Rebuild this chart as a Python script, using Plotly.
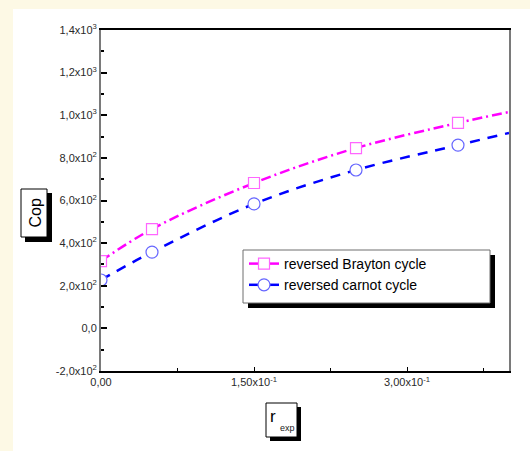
import plotly.graph_objects as go

# ---- data ----
r_exp = [0.0, 0.05, 0.15, 0.25, 0.35, 0.40]
cop_brayton = [316, 466, 682, 846, 964, 1015]
cop_carnot = [227, 358, 584, 743, 860, 917]
n_marked = 5  # markers are drawn on the first five points only

y_tickvals = [-200, 0, 200, 400, 600, 800, 1000, 1200, 1400]
y_ticktext = ["-2,0x10<sup>2</sup>", "0,0", "2,0x10<sup>2</sup>", "4,0x10<sup>2</sup>",
              "6,0x10<sup>2</sup>", "8,0x10<sup>2</sup>", "1,0x10<sup>3</sup>",
              "1,2x10<sup>3</sup>", "1,4x10<sup>3</sup>"]
x_tickvals = [0.0, 0.15, 0.30]
x_ticktext = ["0,00", "1,50x10<sup>-1</sup>", "3,00x10<sup>-1</sup>"]

name_b = "reversed Brayton cycle"
name_c = "reversed carnot cycle"

MAG = "#ff00ff"
MAG_MK = "#ff66ff"
BLUE = "#0000ff"
BLUE_MK = "#6666ff"
FONT = "Liberation Sans, Arial, sans-serif"
CREAM = "#fdf9e5"

W, H = 530, 451
L, R, T, B = 101, 21, 30, 80
PW, PH = W - L - R, H - T - B


def px(x):
    return (x - L) / PW


def py(y):
    return (H - B - y) / PH


fig = go.Figure()

# lines
fig.add_trace(go.Scatter(x=r_exp, y=cop_brayton, mode="lines", line_shape="spline",
                         line=dict(color=MAG, width=2.5, dash="10px,4px,2px,4px"),
                         showlegend=False, hoverinfo="skip"))
fig.add_trace(go.Scatter(x=r_exp, y=cop_carnot, mode="lines", line_shape="spline",
                         line=dict(color=BLUE, width=2.5, dash="10px,8px"),
                         showlegend=False, hoverinfo="skip"))
# markers
fig.add_trace(go.Scatter(x=r_exp[:n_marked], y=cop_brayton[:n_marked], mode="markers",
                         marker=dict(symbol="square", size=11, color="white",
                                     line=dict(color=MAG_MK, width=1.2)),
                         showlegend=False))
fig.add_trace(go.Scatter(x=r_exp[:n_marked], y=cop_carnot[:n_marked], mode="markers",
                         marker=dict(symbol="circle", size=12, color="white",
                                     line=dict(color=BLUE_MK, width=1.2)),
                         showlegend=False))
# legend entries
fig.add_trace(go.Scatter(x=[None], y=[None], mode="lines+markers", name=name_b,
                         line=dict(color=MAG, width=2.5),
                         marker=dict(symbol="square", size=11, color="white",
                                     line=dict(color=MAG_MK, width=1.2))))
fig.add_trace(go.Scatter(x=[None], y=[None], mode="lines+markers", name=name_c,
                         line=dict(color=BLUE, width=2.5),
                         marker=dict(symbol="circle", size=12, color="white",
                                     line=dict(color=BLUE_MK, width=1.2))))

shapes = [
    # white panel over cream background
    dict(type="rect", xref="paper", yref="paper", layer="below",
         x0=px(13), x1=px(W + 5), y0=py(9), y1=py(H + 5),
         fillcolor="white", line=dict(width=0)),
    # legend shadow + box
    dict(type="rect", xref="paper", yref="paper", layer="above",
         x0=px(248), x1=px(495), y0=py(255), y1=py(308),
         fillcolor="black", line=dict(width=0)),
    dict(type="rect", xref="paper", yref="paper", layer="above",
         x0=px(243), x1=px(490), y0=py(250), y1=py(303),
         fillcolor="white", line=dict(color="#6e6e6e", width=1)),
    # Cop box
    dict(type="rect", xref="paper", yref="paper", layer="above",
         x0=px(25), x1=px(52), y0=py(193), y1=py(242),
         fillcolor="black", line=dict(width=0)),
    dict(type="rect", xref="paper", yref="paper", layer="above",
         x0=px(21), x1=px(47), y0=py(189), y1=py(237),
         fillcolor="white", line=dict(color="black", width=1)),
    # r_exp box
    dict(type="rect", xref="paper", yref="paper", layer="above",
         x0=px(270), x1=px(301), y0=py(407), y1=py(441),
         fillcolor="black", line=dict(width=0)),
    dict(type="rect", xref="paper", yref="paper", layer="above",
         x0=px(266), x1=px(297), y0=py(403), y1=py(437),
         fillcolor="white", line=dict(color="black", width=1)),
]

annotations = [
    dict(text="Cop", xref="paper", yref="paper", x=px(34.5), y=py(213),
         showarrow=False, textangle=-90, font=dict(family=FONT, size=16, color="black"),
         xanchor="center", yanchor="middle"),
    dict(text="r", xref="paper", yref="paper", x=px(272.5), y=py(417),
         showarrow=False, font=dict(family=FONT, size=17, color="black"),
         xanchor="center", yanchor="middle"),
    dict(text="exp", xref="paper", yref="paper", x=px(287), y=py(428),
         showarrow=False, font=dict(family=FONT, size=9, color="#222222"),
         xanchor="center", yanchor="middle"),
]

fig.update_layout(
    width=W, height=H,
    margin=dict(l=L, r=R, t=T, b=B, pad=0),
    paper_bgcolor=CREAM,
    plot_bgcolor="white",
    font=dict(family=FONT, size=11, color="#333333"),
    shapes=shapes,
    annotations=annotations,
    showlegend=True,
    legend=dict(x=px(244), y=py(248), xanchor="left", yanchor="top",
                bgcolor="rgba(0,0,0,0)", borderwidth=0,
                font=dict(family=FONT, size=14, color="black"),
                tracegroupgap=0, itemwidth=30),
    xaxis=dict(range=[0, 0.40], tickvals=x_tickvals, ticktext=x_ticktext,
               ticks="inside", ticklen=4, tickwidth=1, tickcolor="black",
               showline=True, linecolor="black", linewidth=2, mirror=True,
               showgrid=False, zeroline=False,
               tickfont=dict(family=FONT, size=11, color="#2a2a2a"),
               minor=dict(tickmode="linear", tick0=0.075, dtick=0.15, ticks="inside",
                          ticklen=3, tickcolor="black", showgrid=False)),
    yaxis=dict(range=[-200, 1400], tickvals=y_tickvals, ticktext=y_ticktext,
               ticks="inside", ticklen=6, tickwidth=1.5, tickcolor="black",
               showline=True, linecolor="#7a7a7a", linewidth=2, mirror=True,
               showgrid=False, zeroline=False,
               tickfont=dict(family=FONT, size=11, color="#2a2a2a"),
               minor=dict(tickmode="linear", tick0=-100, dtick=200, ticks="inside",
                          ticklen=3, tickcolor="black", showgrid=False)),
    yaxis2=dict(overlaying="y", side="right", range=[0, 10],
                tickvals=[1, 2, 3, 4, 5, 6, 7, 8, 9], ticks="inside", ticklen=4,
                tickwidth=1.5, tickcolor="black", showticklabels=False,
                showgrid=False, zeroline=False, showline=False),
    xaxis2=dict(overlaying="x", side="top", range=[0, 1], tickvals=[0.9],
                ticks="inside", ticklen=4, tickcolor="black", showticklabels=False,
                showgrid=False, zeroline=False, showline=False),
)

post = ("document.body.style.margin='0px';"
        "document.body.style.padding='0px';"
        "document.body.style.background='%s';" % CREAM)

fig.write_html("out.html", post_script=post, config={"displayModeBar": False})
